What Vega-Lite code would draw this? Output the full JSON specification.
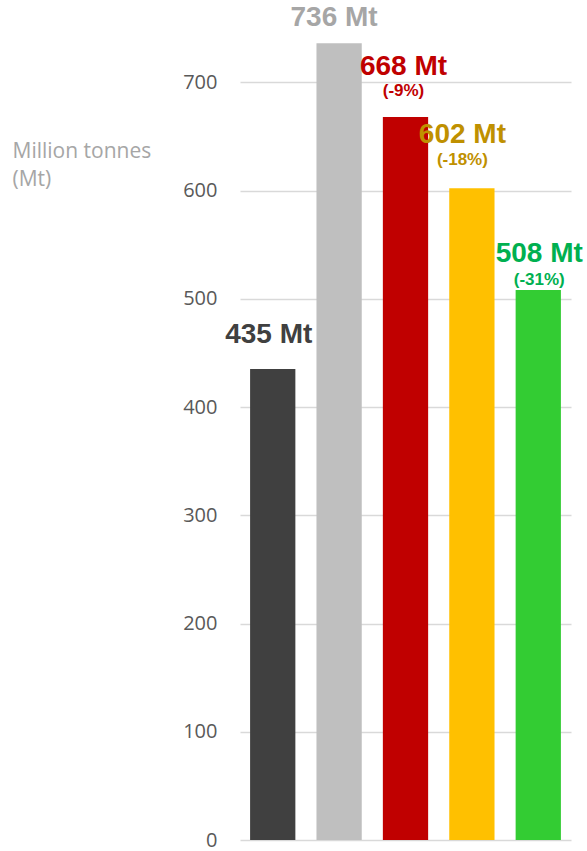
{
  "$schema": "https://vega.github.io/schema/vega-lite/v6.json",
  "autosize": "none",
  "width": 331,
  "height": 840,
  "padding": {"left": 240, "top": 0, "right": 16, "bottom": 11},
  "background": "white",
  "config": {"view": {"stroke": null}},
  "data": {
    "values": [
      {"cat": "1", "value": 435, "label": "435 Mt", "change": ""},
      {"cat": "2", "value": 736, "label": "736 Mt", "change": ""},
      {"cat": "3", "value": 668, "label": "668 Mt", "change": "(-9%)"},
      {"cat": "4", "value": 602, "label": "602 Mt", "change": "(-18%)"},
      {"cat": "5", "value": 508, "label": "508 Mt", "change": "(-31%)"}
    ]
  },
  "encoding": {
    "x": {
      "field": "cat",
      "type": "nominal",
      "sort": null,
      "scale": {"paddingInner": 0.318, "paddingOuter": 0.152},
      "axis": null
    },
    "y": {
      "field": "value",
      "type": "quantitative",
      "scale": {"domain": [0, 776], "nice": false, "zero": true},
      "axis": {
        "values": [0, 100, 200, 300, 400, 500, 600, 700],
        "domain": false,
        "ticks": false,
        "grid": true,
        "gridColor": "#d9d9d9",
        "gridWidth": 1.5,
        "labelFont": "Open Sans",
        "labelFontSize": 20,
        "labelColor": "#595959",
        "labelPadding": 23,
        "title": ["Million tonnes", "(Mt)"],
        "titleFont": "Open Sans",
        "titleFontSize": 21,
        "titleFontWeight": "normal",
        "titleColor": "#a6a6a6",
        "titleAngle": 0,
        "titleAlign": "left",
        "titleBaseline": "alphabetic",
        "titleX": -228,
        "titleY": 157,
        "titleLineHeight": 28
      }
    }
  },
  "layer": [
    {
      "mark": {"type": "bar"},
      "encoding": {
        "color": {
          "field": "cat",
          "type": "nominal",
          "scale": {"domain": ["1", "2", "3", "4", "5"], "range": ["#404040", "#bfbfbf", "#c00000", "#ffc000", "#33cc33"]},
          "legend": null
        }
      }
    },
    {
      "transform": [{"filter": "datum.cat == '1'"}],
      "mark": {"type": "text", "font": "Liberation Sans", "fontWeight": "bold", "fontSize": 28, "baseline": "alphabetic", "align": "center", "dx": -4, "dy": -26, "color": "#404040"},
      "encoding": {"text": {"field": "label"}}
    },
    {
      "transform": [{"filter": "datum.cat == '2'"}],
      "mark": {"type": "text", "font": "Liberation Sans", "fontWeight": "bold", "fontSize": 28, "baseline": "alphabetic", "align": "center", "dx": -5, "dy": -17, "color": "#a6a6a6"},
      "encoding": {"text": {"field": "label"}}
    },
    {
      "transform": [{"filter": "datum.cat == '3'"}],
      "mark": {"type": "text", "font": "Liberation Sans", "fontWeight": "bold", "fontSize": 28, "baseline": "alphabetic", "align": "center", "dx": -2, "dy": -42, "color": "#c00000"},
      "encoding": {"text": {"field": "label"}}
    },
    {
      "transform": [{"filter": "datum.cat == '3'"}],
      "mark": {"type": "text", "font": "Liberation Sans", "fontWeight": "bold", "fontSize": 17, "baseline": "alphabetic", "align": "center", "dx": -2, "dy": -21, "color": "#c00000"},
      "encoding": {"text": {"field": "change"}}
    },
    {
      "transform": [{"filter": "datum.cat == '4'"}],
      "mark": {"type": "text", "font": "Liberation Sans", "fontWeight": "bold", "fontSize": 28, "baseline": "alphabetic", "align": "center", "dx": -9.5, "dy": -45, "color": "#bf9000"},
      "encoding": {"text": {"field": "label"}}
    },
    {
      "transform": [{"filter": "datum.cat == '4'"}],
      "mark": {"type": "text", "font": "Liberation Sans", "fontWeight": "bold", "fontSize": 17, "baseline": "alphabetic", "align": "center", "dx": -9.5, "dy": -23, "color": "#bf9000"},
      "encoding": {"text": {"field": "change"}}
    },
    {
      "transform": [{"filter": "datum.cat == '5'"}],
      "mark": {"type": "text", "font": "Liberation Sans", "fontWeight": "bold", "fontSize": 28, "baseline": "alphabetic", "align": "center", "dx": 1, "dy": -28, "color": "#00b050"},
      "encoding": {"text": {"field": "label"}}
    },
    {
      "transform": [{"filter": "datum.cat == '5'"}],
      "mark": {"type": "text", "font": "Liberation Sans", "fontWeight": "bold", "fontSize": 17, "baseline": "alphabetic", "align": "center", "dx": 1, "dy": -5, "color": "#00b050"},
      "encoding": {"text": {"field": "change"}}
    }
  ]
}
